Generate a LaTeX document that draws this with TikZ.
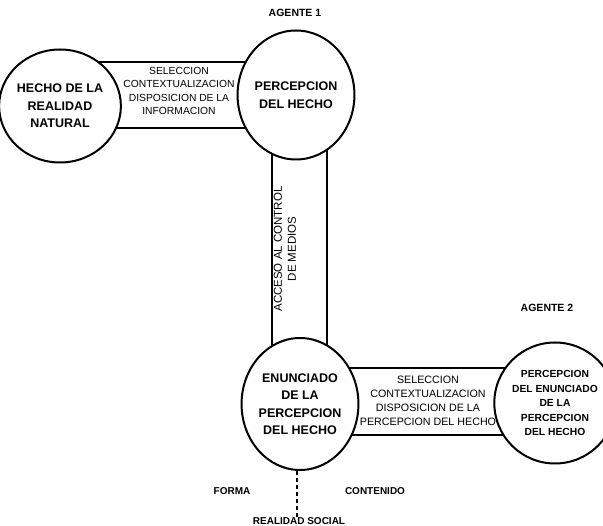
\documentclass[tikz,border=0pt]{standalone}
\usepackage{fontspec}
\setmainfont{Liberation Sans}
\usetikzlibrary{shapes.geometric,backgrounds}

\begin{document}
\begin{tikzpicture}[
  x=1pt, y=-1pt,
  fact/.style={ellipse, draw, line width=2pt, fill=white, inner sep=0pt, align=center, font=\bfseries\fontsize{12.5}{17.5}\selectfont},
  band/.style={draw, line width=1.6pt},
  bandtext/.style={align=center, inner sep=0pt, font=\fontsize{10.5}{13.5}\selectfont},
  tag/.style={inner sep=0pt, font=\bfseries\fontsize{10}{12}\selectfont}
]
  \useasboundingbox (0,0) rectangle (603,526);
  % the four facts
  \node[fact, minimum width=111pt, minimum height=113pt] (hecho) at (60,106) {HECHO DE LA\\REALIDAD\\NATURAL};
  \node[fact, minimum width=103pt, minimum height=129pt] (perc) at (296,95) {PERCEPCION\\DEL HECHO};
  \node[fact, minimum width=97pt, minimum height=132pt] (enun) at (300,404) {ENUNCIADO\\DE LA\\PERCEPCION\\DEL HECHO};
  \node[fact, minimum width=96pt, minimum height=121pt, font=\bfseries\fontsize{10.3}{14.5}\selectfont] (percenun) at (555,403) {PERCEPCION\\DEL ENUNCIADO\\DE LA\\PERCEPCION\\DEL HECHO};
  % bands between them
  \begin{scope}[on background layer]
    \draw[band] (hecho.center |- 0,62) rectangle (perc.center |- 0,128);
    \draw[band] (perc.center -| 272,0) rectangle (enun.center -| 327,0);
    \draw[band] (enun.center |- 0,368) rectangle (percenun.center |- 0,435);
  \end{scope}
  \node[bandtext, font=\fontsize{10.3}{13.5}\selectfont] (sel1) at (179,91) {SELECCION\\CONTEXTUALIZACION\\DISPOSICION DE LA\\INFORMACION};
  \node[bandtext, rotate=90, font=\fontsize{11.5}{14}\selectfont] (acceso) at (285,249) {ACCESO AL CONTROL\\DE MEDIOS};
  \node[bandtext, font=\fontsize{10.7}{14}\selectfont] (sel2) at (428,401) {SELECCION\\CONTEXTUALIZACION\\DISPOSICION DE LA\\PERCEPCION DEL HECHO};
  % labels
  \node[tag, font=\bfseries\fontsize{10.5}{12}\selectfont] (agente1) at (295,13) {AGENTE 1};
  \node[tag, font=\bfseries\fontsize{10.5}{12}\selectfont] (agente2) at (547,308) {AGENTE 2};
  \node[tag] (forma) at (232,491) {FORMA};
  \node[tag] (contenido) at (375,491) {CONTENIDO};
  \node[tag] (social) at (299,521) {REALIDAD SOCIAL};
  \draw[dashed, dash pattern=on 4pt off 3pt, line width=1.2pt] (enun.south -| 297,0) -- (social.north -| 297,0);
\end{tikzpicture}
\end{document}
